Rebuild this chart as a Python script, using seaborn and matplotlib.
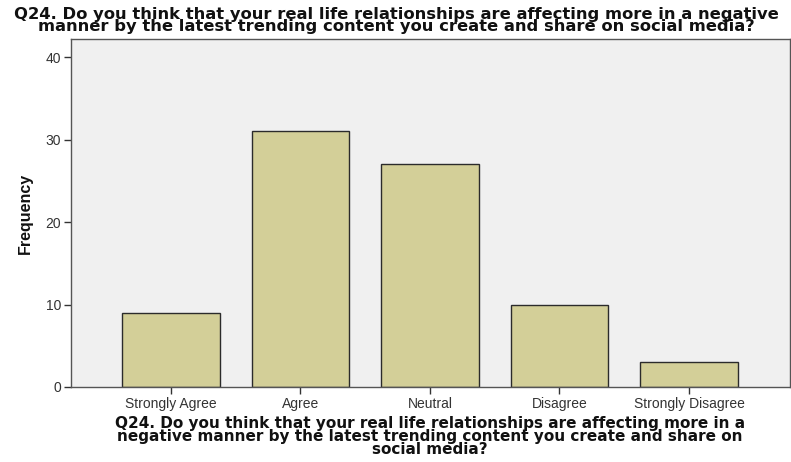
import matplotlib
matplotlib.use("Agg")
import matplotlib.pyplot as plt
import seaborn as sns
import pandas as pd

categories = ["Strongly Agree", "Agree", "Neutral", "Disagree", "Strongly Disagree"]
frequency = [9, 31, 27, 10, 3]
y_ticks = [0, 10, 20, 30, 40]

title = ("Q24. Do you think that your real life relationships are affecting more in a negative\n"
         "manner by the latest trending content you create and share on social media?")
xlabel = ("Q24. Do you think that your real life relationships are affecting more in a\n"
          "negative manner by the latest trending content you create and share on\n"
          "social media?")

sns.set_style("white")
plt.rcParams['font.family'] = ['Liberation Sans', 'DejaVu Sans']

df = pd.DataFrame({"category": categories, "frequency": frequency})

W, H = 791, 462
fig = plt.figure(figsize=(W/100, H/100), dpi=100)
ax = fig.add_axes([71/W, 1 - 387/H, (790-71)/W, (387-39)/H])
ax.set_facecolor("#f0f0f0")

sns.barplot(data=df, x="category", y="frequency", order=categories, color="#d3cf98",
            saturation=1, width=0.75, edgecolor="#2b2b2b", linewidth=1.0, ax=ax)

ax.set_xlim(-0.772, 4.78)
ax.set_ylim(0, 42.2)
ax.set_yticks(y_ticks)
ax.tick_params(axis='both', direction='out', length=5, width=1, color="#333333",
               labelsize=10, labelcolor="#333333", left=True, bottom=True, pad=2)
for s in ax.spines.values():
    s.set_color("#555555")
    s.set_linewidth(1.0)

ax.set_xlabel("")
ax.set_ylabel("")
fig.text(25/W, 1 - 213/H, "Frequency", rotation=90, ha="center", va="center",
         fontsize=11.5, fontweight="bold", family=["Liberation Sans Narrow", "Liberation Sans"],
         color="#111111")

fig.text(396/W, 1 - 6.5/H, title, ha="center", va="top", multialignment="center",
         fontsize=11.8, fontweight="bold", family=["DejaVu Sans"], color="#111111",
         linespacing=0.76)

fig.text(430/W, 1 - 416/H, xlabel, ha="center", va="top", multialignment="center",
         fontsize=11, fontweight="bold", family=["DejaVu Sans"], color="#111111",
         linespacing=0.84)

fig.savefig("out.png", dpi=100)
